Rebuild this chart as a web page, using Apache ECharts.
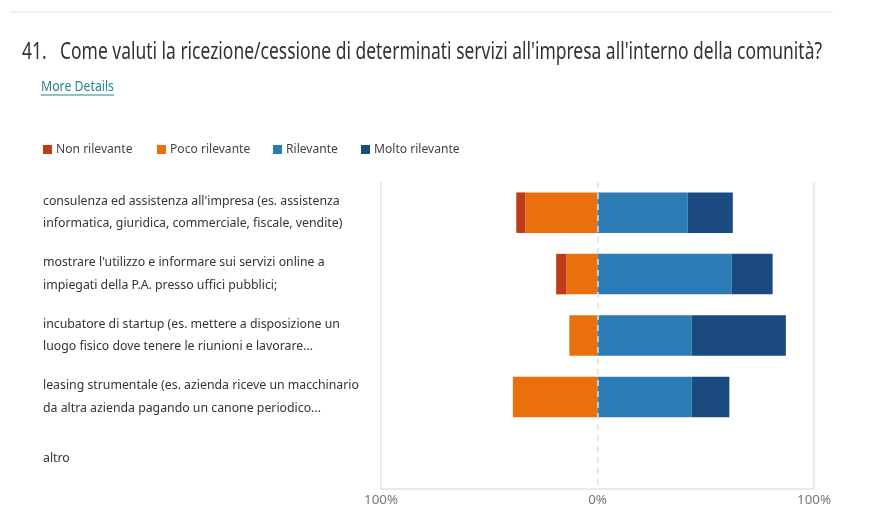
<!DOCTYPE html>
<html>
<head>
<meta charset="utf-8">
<script src="https://cdn.jsdelivr.net/npm/echarts@6/dist/echarts.min.js"></script>
<style>html,body{margin:0;padding:0;background:#fff}#c{width:872px;height:523px}</style>
</head>
<body>
<div id="c"></div>
<script>
// ---- data ----
const categories = [
  "consulenza ed assistenza all'impresa (es. assistenza\ninformatica, giuridica, commerciale, fiscale, vendite)",
  "mostrare l'utilizzo e informare sui servizi online a\nimpiegati della P.A. presso uffici pubblici;",
  "incubatore di startup (es. mettere a disposizione un\nluogo fisico dove tenere le riunioni e lavorare...",
  "leasing strumentale (es. azienda riceve un macchinario\nda altra azienda pagando un canone periodico...",
  "altro"
];
const seriesNames = ['Non rilevante', 'Poco rilevante', 'Rilevante', 'Molto rilevante'];
const nonRilevante = [-4.2, -4.8, 0, 0, null];
const pocoRilevante = [-33.3, -14.3, -13.0, -39.1, null];
const rilevante = [41.7, 61.9, 43.5, 43.5, null];
const moltoRilevante = [20.8, 19.0, 43.5, 17.4, null];
const xTicks = [-100, 0, 100];
const titleNum = '41.';
const titleText = "Come valuti la ricezione/cessione di determinati servizi all'impresa all'interno della comunità?";
const linkText = 'More Details';

const colors = {non: '#bf3a17', poco: '#ea700d', ril: '#2b7bb4', molto: '#1a4a80'};

const FF = 'Noto Sans';

function render() {
  const cv = document.createElement('canvas').getContext('2d');
  function w(text, font) { cv.font = font; return cv.measureText(text).width; }

  const titleFont = '23px "' + FF + '"';
  const titleScale = 762 / w(titleText, titleFont);
  const linkFont = '14px "' + FF + '"';
  const linkScale = 73 / w(linkText, linkFont);

  // font sizes fitted to the reference text widths
  const catSize = +(13 * 297 / w("consulenza ed assistenza all'impresa (es. assistenza", '13px "' + FF + '"')).toFixed(2);
  const legSize = +(13 * 76.6 / w('Non rilevante', '13px "' + FF + '"')).toFixed(2);
  const axSize = +(13 * 34 / w('100%', '13px "' + FF + '"')).toFixed(2);

  const chart = echarts.init(document.getElementById('c'), null, {renderer: 'canvas'});

  function legendAt(name, left) {
    return {
      data: [name], left: left, top: 143.5, icon: 'rect', itemWidth: 9, itemHeight: 9,
      selectedMode: false, padding: 0,
      textStyle: {color: '#444', fontSize: legSize, fontFamily: FF, padding: [0, 0, 0, -1]}
    };
  }

  function barSeries(name, data, color) {
    return {
      name: name, type: 'bar', stack: 'total', data: data, barWidth: '66%',
      itemStyle: {color: color}, emphasis: {disabled: true}
    };
  }

  const option = {
    animation: false,
    color: [colors.non, colors.poco, colors.ril, colors.molto],
    legend: [
      legendAt(seriesNames[0], 43),
      legendAt(seriesNames[1], 157),
      legendAt(seriesNames[2], 273),
      legendAt(seriesNames[3], 361)
    ],
    grid: {left: 381, right: 58, top: 182, bottom: 34, containLabel: false},
    xAxis: {
      type: 'value', min: xTicks[0], max: xTicks[2], interval: 100,
      axisLine: {show: true, lineStyle: {color: '#e3e3e3', width: 1.5}},
      axisTick: {show: false},
      splitLine: {show: true, lineStyle: {color: ['#e3e3e3', 'rgba(0,0,0,0)', '#e3e3e3'], width: 1.5}},
      axisLabel: {
        color: '#777', fontSize: axSize, fontFamily: FF, margin: 5,
        formatter: v => Math.abs(v) + '%'
      }
    },
    yAxis: {
      type: 'category', data: categories, inverse: true,
      axisLine: {show: false}, axisTick: {show: false},
      axisLabel: {
        align: 'left', margin: 338, color: '#333',
        fontSize: catSize, lineHeight: 22.5, fontFamily: FF
      }
    },
    series: [
      barSeries(seriesNames[1], pocoRilevante, colors.poco),
      barSeries(seriesNames[0], nonRilevante, colors.non),
      barSeries(seriesNames[2], rilevante, colors.ril),
      Object.assign(barSeries(seriesNames[3], moltoRilevante, colors.molto), {
        markLine: {
          silent: true, symbol: 'none', label: {show: false},
          lineStyle: {color: '#e0e0e0', type: [6, 5], width: 1.5},
          data: [{xAxis: 0}]
        }
      })
    ],
    graphic: [
      {type: 'line', shape: {x1: 10, y1: 12, x2: 833, y2: 12}, style: {stroke: '#ececec', lineWidth: 1.5}, silent: true},
      {type: 'text', x: 22, y: 52, scaleX: titleScale, style: {text: titleNum, font: titleFont, fill: '#333', textVerticalAlign: 'middle'}},
      {type: 'text', x: 60, y: 52, scaleX: titleScale, style: {text: titleText, font: titleFont, fill: '#333', textVerticalAlign: 'middle'}},
      {type: 'text', x: 41, y: 87, scaleX: linkScale, style: {text: linkText, font: linkFont, fill: '#1f8591', textVerticalAlign: 'middle'}},
      {type: 'line', shape: {x1: 41, y1: 95, x2: 114, y2: 95}, style: {stroke: '#1f8591', lineWidth: 1}, silent: true}
    ]
  };
  chart.setOption(option);
}

Promise.all([
  document.fonts.load('23px "Noto Sans"', 'Come'),
  document.fonts.load('13px "Noto Sans"', 'Come')
]).then(render, render);
</script>
</body>
</html>
